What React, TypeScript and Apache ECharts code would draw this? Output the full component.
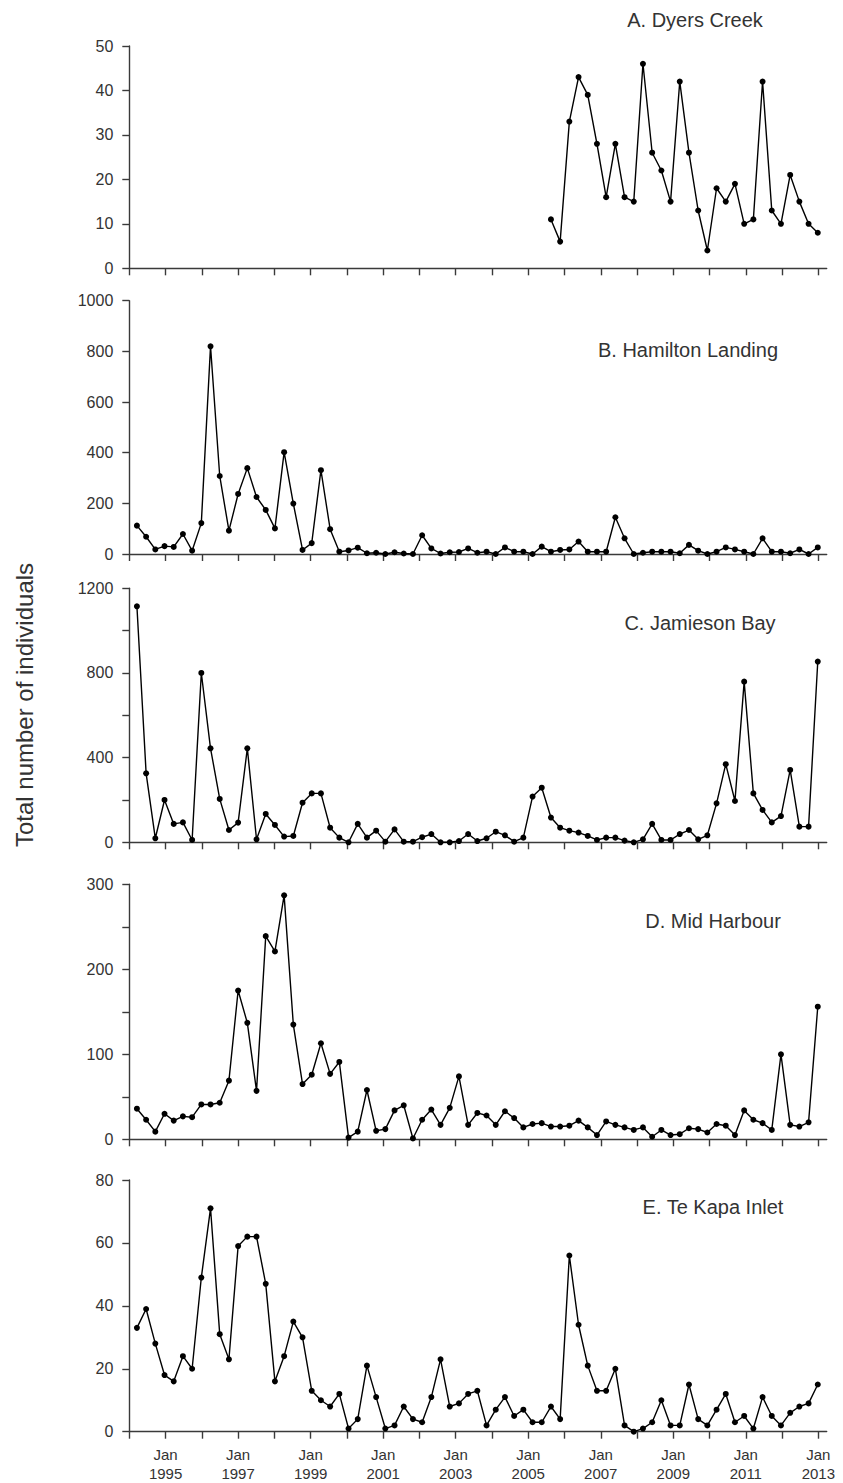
import React, { useEffect, useRef } from "react";
import * as echarts from "echarts";

// Sampling schedule (roughly quarterly), in decimal years
const FIRST_SAMPLE = 1994.21;
const SAMPLE_STEP = 0.2537;

const yearTicks = [1994, 1995, 1996, 1997, 1998, 1999, 2000, 2001, 2002, 2003, 2004, 2005, 2006, 2007, 2008, 2009, 2010, 2011, 2012, 2013];
const yearLabels = [1995, 1997, 1999, 2001, 2003, 2005, 2007, 2009, 2011, 2013];

const panelTitles = ["A. Dyers Creek", "B. Hamilton Landing", "C. Jamieson Bay", "D. Mid Harbour", "E. Te Kapa Inlet"];

const dyersCreekFirstSample = 45;
const dyersCreek = [11, 6, 33, 43, 39, 28, 16, 28, 16, 15, 46, 26, 22, 15, 42, 26, 13, 4, 18, 15, 19, 10, 11, 42, 13, 10, 21, 15, 10, 8];

const hamiltonLanding = [112, 68, 18, 31, 28, 79, 13, 122, 820, 308, 92, 237, 339, 225, 174, 101, 402, 199, 16, 43, 331, 98, 9, 14, 25, 3, 5, 0, 7, 2, 0, 74, 22, 2, 7, 8, 22, 5, 9, 0, 26, 9, 9, 0, 29, 9, 16, 18, 49, 9, 9, 9, 145, 62, 0, 5, 9, 9, 9, 3, 36, 13, 0, 9, 26, 18, 9, 0, 62, 9, 9, 3, 18, 0, 26];

const jamiesonBay = [1115, 326, 19, 200, 87, 94, 11, 800, 444, 205, 58, 93, 444, 14, 134, 82, 27, 30, 187, 231, 231, 69, 22, 0, 87, 22, 55, 3, 61, 3, 3, 24, 39, 0, 0, 6, 39, 6, 19, 50, 33, 3, 22, 216, 258, 117, 69, 55, 46, 30, 11, 22, 22, 8, 0, 14, 87, 11, 11, 39, 58, 14, 33, 184, 369, 195, 759, 231, 153, 94, 124, 342, 74, 74, 854];

const midHarbour = [36, 23, 9, 30, 22, 27, 26, 41, 41, 43, 69, 175, 137, 57, 239, 221, 287, 135, 65, 76, 113, 77, 91, 2, 9, 58, 10, 12, 34, 40, 1, 23, 35, 17, 37, 74, 17, 31, 28, 17, 33, 25, 14, 18, 19, 15, 15, 16, 22, 14, 5, 21, 17, 14, 11, 14, 3, 11, 5, 6, 13, 12, 8, 18, 16, 5, 34, 23, 19, 11, 100, 17, 15, 20, 156];

const teKapaInlet = [33, 39, 28, 18, 16, 24, 20, 49, 71, 31, 23, 59, 62, 62, 47, 16, 24, 35, 30, 13, 10, 8, 12, 1, 4, 21, 11, 1, 2, 8, 4, 3, 11, 23, 8, 9, 12, 13, 2, 7, 11, 5, 7, 3, 3, 8, 4, 56, 34, 21, 13, 13, 20, 2, 0, 1, 3, 10, 2, 2, 15, 4, 2, 7, 12, 3, 5, 1, 11, 5, 2, 6, 8, 9, 15];

const yMax = [50, 1000, 1200, 300, 80];
const yTickStep = [10, 200, 200, 50, 20];
const yLabelStep = [10, 200, 400, 100, 20];

const toPairs = (values: number[], firstSample: number) =>
  values.map((v, i) => [FIRST_SAMPLE + (firstSample + i) * SAMPLE_STEP, v]);

const seriesData = [
  toPairs(dyersCreek, dyersCreekFirstSample),
  toPairs(hamiltonLanding, 0),
  toPairs(jamiesonBay, 0),
  toPairs(midHarbour, 0),
  toPairs(teKapaInlet, 0),
];

// layout (pixels)
const GRID_LEFT = 129.3;
const GRID_WIDTH = 697.4;
const gridTop = [46, 300.7, 588.3, 884.3, 1180];
const gridHeight = [222.3, 253.3, 254, 255, 251.7];
const titlePos = [
  [695, 20],
  [688, 350],
  [700, 623],
  [713, 921],
  [713, 1207],
];

const FONT = "'Liberation Sans', Arial, Helvetica, sans-serif";
const AXIS_COLOR = "#3a3a3a";
const TEXT_COLOR = "#333333";

export default function App() {
  const ref = useRef<HTMLDivElement>(null);

  useEffect(() => {
    if (!ref.current) return;
    const chart = echarts.init(ref.current, undefined, { renderer: "svg" });

    const grid = gridTop.map((t, i) => ({
      left: GRID_LEFT,
      width: GRID_WIDTH,
      top: t,
      height: gridHeight[i],
    }));

    const xAxis = gridTop.map((_, i) => ({
      type: "value",
      gridIndex: i,
      min: 1994,
      max: 2013.23,
      interval: 1,
      axisLine: { show: true, onZero: false, lineStyle: { color: AXIS_COLOR, width: 1.4 } },
      axisTick: {
        show: true,
        length: 7,
        customValues: yearTicks,
        lineStyle: { color: AXIS_COLOR, width: 1.4 },
      },
      axisLabel:
        i === 4
          ? {
              show: true,
              customValues: yearLabels,
              margin: 13,
              fontSize: 15,
              lineHeight: 19,
              fontFamily: FONT,
              color: TEXT_COLOR,
              formatter: (v: number) => (Math.round(v) % 2 === 1 && Math.abs(v - Math.round(v)) < 1e-6 ? `Jan\n${Math.round(v)}` : ""),
            }
          : { show: false },
      splitLine: { show: false },
    }));

    const yAxis = gridTop.map((_, i) => ({
      type: "value",
      gridIndex: i,
      min: 0,
      max: yMax[i],
      interval: yTickStep[i],
      axisLine: { show: true, lineStyle: { color: AXIS_COLOR, width: 1.4 } },
      axisTick: { show: true, length: 7, lineStyle: { color: AXIS_COLOR, width: 1.4 } },
      axisLabel: {
        margin: 16,
        fontSize: 16,
        fontFamily: FONT,
        color: TEXT_COLOR,
        formatter: (v: number) => (v % yLabelStep[i] === 0 ? String(v) : ""),
      },
      splitLine: { show: false },
    }));

    const series = seriesData.map((d, i) => ({
      type: "line",
      xAxisIndex: i,
      yAxisIndex: i,
      data: d,
      symbol: "circle",
      symbolSize: 6,
      showSymbol: true,
      clip: false,
      lineStyle: { color: "#000", width: 1.4 },
      itemStyle: { color: "#000" },
      z: 3,
    }));

    const graphic: any[] = panelTitles.map((t, i) => ({
      type: "text",
      x: titlePos[i][0],
      y: titlePos[i][1],
      style: {
        text: t,
        font: `20px ${FONT}`,
        fill: TEXT_COLOR,
        textAlign: "center",
        textVerticalAlign: "middle",
        align: "center",
        verticalAlign: "middle",
      },
    }));
    graphic.push({
      type: "text",
      x: 24,
      y: 705,
      rotation: Math.PI / 2,
      style: {
        text: "Total number of individuals",
        font: `24px ${FONT}`,
        fill: TEXT_COLOR,
        textAlign: "center",
        textVerticalAlign: "middle",
        align: "center",
        verticalAlign: "middle",
      },
    });

    chart.setOption({
      animation: false,
      backgroundColor: "#ffffff",
      grid,
      xAxis,
      yAxis,
      series,
      graphic,
    });

    return () => chart.dispose();
  }, []);

  return (
    <div
      ref={ref}
      style={{ position: "fixed", left: 0, top: 0, width: 843, height: 1483, background: "#fff" }}
    />
  );
}
